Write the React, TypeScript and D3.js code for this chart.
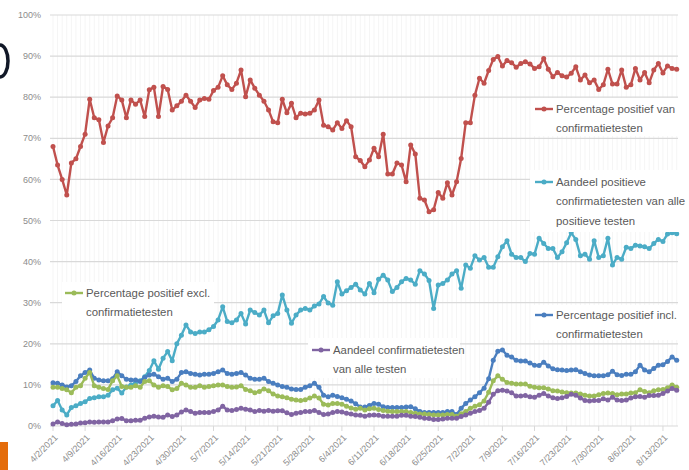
import * as d3 from 'd3'

// daily values, 4/2/2021 .. 8/16/2021
const redSeries = [
  68, 63.5, 60, 56.2, 64, 65, 68, 71, 79.5, 75, 74.5, 69, 73, 75, 80.3, 79.3, 75, 79.3, 78.3, 79.3,
  75.3, 81.8, 82.4, 75.3, 82.6, 81.9, 76.9, 77.9, 79, 80.5, 79, 77.5, 79.3, 79.7, 79.5, 81.6, 82.4, 85.2, 83, 81.9,
  83.4, 86.6, 80.1, 84.2, 82.2, 80.5, 79, 76.9, 74, 73.8, 79.5, 76.2, 78.5, 75, 76.1, 75.9, 76.1, 76.9, 79.3, 73.2,
  72.8, 72, 73.8, 72.4, 74.3, 72.8, 65.5, 64.6, 63.1, 64.7, 67.6, 65.5, 71, 61.3, 61.3, 64, 63.5, 59.4, 68.4, 66.2,
  55.4, 55, 52.1, 52.6, 56.8, 55.4, 59.2, 56.2, 59.4, 65.1, 73.8, 73.8, 80.5, 84.6, 83.4, 86.5, 89.2, 89.9, 87.6, 88.9,
  88.4, 87.3, 88.2, 88.6, 88.1, 87, 87.4, 89.4, 86.8, 85, 86, 85.2, 84.9, 85.8, 87.4, 84.2, 85.4, 83.5, 84.2, 81.9,
  83, 86.8, 83.2, 83.2, 86.6, 82.4, 83, 87, 84.2, 86, 83.5, 86.6, 88.2, 85.9, 87.6, 87, 86.8,
]

const cyanSeries = [
  4.9, 6.2, 3.9, 2.7, 4.5, 4.9, 5.5, 5.9, 6.7, 6.9, 7.1, 7.1, 7.5, 8.8, 9.2, 8.0, 9.5, 10, 10.5, 11,
  12, 13.5, 15.9, 13.8, 16.5, 18.1, 15.9, 20, 22.1, 24.6, 22.9, 22.5, 22.9, 22.9, 23.4, 24.2, 25.8, 29, 25.4, 25.1,
  25.8, 27.4, 24.8, 28.2, 27.6, 27, 28.2, 25.1, 26.8, 27.4, 31.9, 28.2, 25, 27, 28.2, 28.6, 28.2, 29.2, 29.7, 31.5,
  29.9, 29.4, 35.1, 32.1, 32.9, 33.7, 34.5, 33.1, 32.1, 34.7, 32.4, 35.7, 36.7, 35.5, 32.7, 33.7, 35.1, 35.9, 35.5, 34.5,
  37.8, 37, 35.4, 28.6, 34.3, 34.7, 35.5, 37, 37.8, 33.5, 39.2, 38.4, 41.4, 40.4, 41, 38.6, 38.6, 41.2, 43.6, 45.1,
  41.8, 41, 41, 40, 42, 41.8, 45.7, 44.4, 43.2, 43.2, 41, 42.4, 44.6, 47, 45.4, 41.4, 41.8, 40.6, 45.1, 41,
  41.4, 45.7, 39.2, 41, 40.6, 43.5, 43.2, 44, 43.8, 43.6, 43.2, 44.4, 45.4, 44.9, 46.7, 47, 46.8,
]

const blueSeries = [
  10.5, 10.4, 10, 9.5, 9.8, 10.8, 12.2, 13, 13.6, 11.6, 11.2, 11, 11, 11.5, 13.2, 12.2, 11.4, 11.2, 11.2, 10.8,
  11.8, 12.4, 12.6, 12, 11.4, 11.6, 10.8, 11.4, 13, 13.2, 12.8, 12.6, 12.4, 12.6, 12.6, 12.8, 13.2, 13.6, 12.8, 12.6,
  12.8, 13, 12.4, 11.6, 11.4, 11.4, 11.6, 10.8, 10.4, 10, 9.6, 9.4, 9, 8.9, 8.9, 9.4, 9.8, 10.4, 9.4, 7.5,
  7.1, 7.5, 7.2, 6.9, 6.5, 6.1, 5.4, 4.6, 4.6, 5, 5.5, 5.3, 4.7, 4.5, 4.5, 4.5, 4.5, 4.6, 4.7, 4.2,
  3.5, 3.3, 3.3, 3.3, 3.3, 3.3, 3.5, 3.5, 2.8, 4.3, 5.5, 6.3, 7.1, 8.1, 9.2, 11.5, 16, 18.2, 18.5, 17.2,
  16.8, 16, 15.8, 15.8, 15.3, 14.8, 14.7, 15.5, 14.6, 13.9, 13.7, 13.6, 13.5, 13.6, 13.7, 13.2, 12.8, 12.4, 12.2, 12.2,
  12.2, 12.5, 13.3, 12.5, 12.3, 12.6, 12.6, 13.2, 14.8, 13.6, 13.2, 14, 14.8, 14.9, 15.7, 16.8, 16,
]

const greenSeries = [
  9.4, 9.4, 9.1, 8.8, 8.1, 9.4, 9.8, 11.6, 13, 9.8, 9.4, 9.1, 8.9, 11, 12.2, 9.6, 9.4, 9.4, 9.8, 9.4,
  10.8, 11, 10, 9.4, 9.8, 9.6, 8.8, 9.1, 10.4, 10, 9.4, 9.4, 9.8, 9.4, 9.6, 9.8, 10, 10, 9.6, 9.4,
  9.5, 9.8, 8.9, 8.6, 8.1, 8.4, 9, 8.6, 7.8, 7.3, 7.1, 6.9, 6.5, 6.3, 6.2, 6.4, 6.8, 7.3, 6.8, 5.3,
  5.1, 5.5, 5.5, 5.3, 4.8, 4.4, 4.1, 4.3, 3.9, 4.2, 4.3, 4, 3.8, 3.6, 3.5, 3.5, 3.5, 3.5, 3.3, 3.1,
  2.9, 2.9, 2.8, 2.7, 2.7, 2.7, 2.8, 2.8, 2.4, 3, 3.5, 4.3, 4.8, 5.2, 6.1, 8.2, 11, 12.2, 11.4, 10.6,
  10.4, 10.2, 10.2, 10.2, 9.7, 9.4, 9.3, 9.3, 9, 8.6, 8.5, 8.3, 8.1, 8, 8, 7.8, 7.5, 7.3, 7.3, 7.6,
  7.9, 8, 7.9, 7.6, 7.8, 7.8, 8, 8.1, 8.8, 8.4, 8.1, 8.6, 8.8, 8.9, 9.3, 10, 9.4,
]

const purpleSeries = [
  0.5, 1, 0.6, 0.3, 0.4, 0.5, 0.7, 0.8, 1, 0.9, 1, 1, 1, 1.3, 1.7, 1.8, 1.3, 1.3, 1.4, 1.4,
  1.9, 2.2, 2.4, 2.2, 2.1, 2.7, 2.3, 2.7, 3.4, 3.9, 3.5, 3.1, 3.3, 3.3, 3.3, 3.5, 3.9, 4.8, 3.9, 3.8,
  4, 4.3, 4.1, 3.9, 3.5, 3.8, 3.6, 3.8, 3.6, 3.7, 3.7, 3.2, 2.8, 3.1, 3.3, 3.5, 3.5, 3.8, 3.3, 2.8,
  2.9, 3.3, 3.5, 3.4, 3.1, 2.9, 2.7, 2.6, 2.4, 2.6, 2.7, 2.6, 2.4, 2.4, 2.4, 2.4, 2.6, 2.6, 2.4, 2.3,
  2.1, 1.9, 1.8, 1.6, 1.6, 1.7, 1.9, 1.9, 1.9, 2.3, 2.7, 3.1, 3.5, 3.8, 4.3, 5.8, 7.7, 8.6, 8.7, 8.5,
  8.1, 7.3, 7.3, 7.4, 7.1, 7, 7.5, 7.9, 7.3, 6.9, 6.7, 6.9, 7.2, 7.7, 7.5, 6.8, 6.2, 6.1, 6.2, 6.2,
  6.6, 6.3, 7, 6.3, 6.2, 6.3, 6.8, 7.1, 7.2, 7, 7.4, 7.4, 7.5, 7.9, 8.5, 9.1, 8.7,
]

const xTickLabels = [
  '4/2/2021', '4/9/2021', '4/16/2021', '4/23/2021', '4/30/2021', '5/7/2021', '5/14/2021',
  '5/21/2021', '5/28/2021', '6/4/2021', '6/11/2021', '6/18/2021', '6/25/2021', '7/2/2021',
  '7/9/2021', '7/16/2021', '7/23/2021', '7/30/2021', '8/6/2021', '8/13/2021',
]

const yTicks = [0, 10, 20, 30, 40, 50, 60, 70, 80, 90, 100]

const seriesNames = {
  red: ['Percentage positief van', 'confirmatietesten'],
  cyan: ['Aandeel positieve', 'confirmatietesten van alle', 'positieve testen'],
  green: ['Percentage positief excl.', 'confirmatietesten'],
  blue: ['Percentage positief incl.', 'confirmatietesten'],
  purple: ['Aandeel confirmatietesten', 'van alle testen'],
}

const W = 689
const H = 470
const FONT = '"Liberation Sans", Arial, sans-serif'

const startMs = Date.UTC(2021, 3, 2)
const dayMs = 864e5
const dates = redSeries.map((_, i) => new Date(startMs + i * dayMs))

const parseLabel = (s: string) => {
  const [m, d, yr] = s.split('/').map(Number)
  return new Date(Date.UTC(yr, m - 1, d))
}

export default function App() {
  const x = d3.scaleUtc()
    .domain([dates[0], dates[dates.length - 1]])
    .range([53, 53 + (dates.length - 1) * 4.586])
  const y = d3.scaleLinear().domain([0, 100]).range([426, 15])

  const line = d3.line<number>()
    .x((_, i) => x(dates[i]))
    .y(d => y(d))

  const series = [
    { key: 'red', data: redSeries, color: '#c0504d' },
    { key: 'cyan', data: cyanSeries, color: '#4bacc6' },
    { key: 'blue', data: blueSeries, color: '#4a7ebf' },
    { key: 'green', data: greenSeries, color: '#9bbb59' },
    { key: 'purple', data: purpleSeries, color: '#8064a2' },
  ]

  const legends = [
    { key: 'red', color: '#c0504d', x: 535, y: 109, box: [532, 98, 150, 38] },
    { key: 'cyan', color: '#4bacc6', x: 535, y: 182, box: [530, 170, 159, 62] },
    { key: 'green', color: '#9bbb59', x: 65, y: 293, box: [62, 282, 152, 38] },
    { key: 'blue', color: '#4a7ebf', x: 535, y: 315, box: [532, 305, 150, 35] },
    { key: 'purple', color: '#8064a2', x: 312, y: 350, box: [308, 338, 152, 40] },
  ]

  return (
    <div style={{ position: 'fixed', left: 0, top: 0 }}>
      <svg width={W} height={H} style={{ display: 'block', background: '#fff' }}>
        {/* faint daily columns */}
        {dates.map((d, i) => (
          <line key={'v' + i} x1={x(d)} x2={x(d)} y1={15} y2={426} stroke="#f5f5f5" strokeWidth={1} />
        ))}

        {yTicks.map(t => (
          <g key={'y' + t}>
            <line x1={50} x2={678} y1={y(t)} y2={y(t)} stroke="#d9d9d9" strokeWidth={1.2} />
            <text x={41} y={y(t)} dy="0.35em" textAnchor="end" fontSize={9} fill="#8c8c8c" fontFamily={FONT}>
              {t}%
            </text>
          </g>
        ))}

        {xTickLabels.map(s => {
          const tx = x(parseLabel(s))
          return (
            <g key={s}>
              <line x1={tx} x2={tx} y1={426} y2={431} stroke="#d9d9d9" strokeWidth={1} />
              <text
                transform={`translate(${tx + 3},${436}) rotate(-45)`}
                textAnchor="end"
                dy="0.35em"
                fontSize={9}
                fill="#8c8c8c"
                fontFamily={FONT}
              >
                {s}
              </text>
            </g>
          )
        })}

        {series.map(s => (
          <g key={s.key}>
            <path d={line(s.data) ?? ''} fill="none" stroke={s.color} strokeWidth={2.4} strokeLinejoin="round" />
            {s.data.map((v, i) => (
              <circle key={i} cx={x(dates[i])} cy={y(v)} r={2.5} fill={s.color} />
            ))}
          </g>
        ))}

        {legends.map(l => {
          const lines = seriesNames[l.key as keyof typeof seriesNames]
          return (
            <g key={'lg' + l.key}>
              <rect x={l.box[0]} y={l.box[1]} width={l.box[2]} height={l.box[3]} fill="#fff" />
              <line x1={l.x} x2={l.x + 18} y1={l.y} y2={l.y} stroke={l.color} strokeWidth={2.4} />
              <circle cx={l.x + 9} cy={l.y} r={2.5} fill={l.color} />
              {lines.map((t, i) => (
                <text
                  key={i}
                  x={l.x + 21}
                  y={l.y + i * 19.5}
                  dy="0.35em"
                  fontSize={11.4}
                  fill="#595959"
                  fontFamily={FONT}
                >
                  {t}
                </text>
              ))}
            </g>
          )
        })}

        {/* cropped decorations at the image edges */}
        <path d="M 0 45 A 8 16 0 0 1 0 77" fill="none" stroke="#111827" strokeWidth={3.5} />
        <rect x={0} y={442} width={8} height={28} fill="#e46c0a" />
      </svg>
    </div>
  )
}
